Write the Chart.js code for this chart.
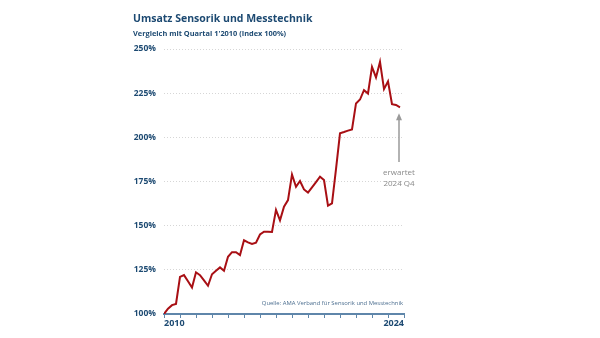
<!DOCTYPE html>
<html>
<head>
<meta charset="utf-8">
<script src="https://cdn.jsdelivr.net/npm/chart.js@4/dist/chart.umd.min.js"></script>
<style>
  html, body { margin: 0; padding: 0; background: #fff; }
  #wrap { width: 600px; height: 338px; }
</style>
</head>
<body>
<div id="wrap"><canvas id="c" width="600" height="338"></canvas></div>
<script>
// quarters from 2010 Q1 to 2024 Q4, index 100 = Q1 2010
const quarters = [];
for (let y = 2010; y <= 2024; y++) for (let q = 1; q <= 4; q++) quarters.push(y + ' Q' + q);

const umsatz = [
  100, 103, 105, 105.7, 121, 122, 118.5, 115, 123.6, 122,
  119, 116, 122.5, 124.5, 126.4, 124.5, 132.4, 135, 135, 133.4,
  141.7, 140.5, 139.6, 140.4, 145, 146.6, 146.6, 146.4, 158.9, 153,
  160.7, 164.5, 179, 172, 175.3, 170.5, 168.7, 171.7, 174.7, 177.7,
  175.8, 161.3, 162.6, 182, 202.3, 203, 203.8, 204.5, 219.2, 221.4,
  226.7, 224.8, 239.9, 233.9, 242.7, 227.3, 231.7, 218.8, 218.3, 217
];

const yTicks = [100, 125, 150, 175, 200, 225, 250];
const yearLabels = ['2010', '2024'];

const title = 'Umsatz Sensorik und Messtechnik';
const subtitle = 'Vergleich mit Quartal 1\'2010 (Index 100%)';
const source = 'Quelle: AMA Verband für Sensorik und Messtechnik';
const note = ['erwartet', '2024 Q4'];

const navy = '#1d4a72';
const axisBlue = '#5f86aa';

const points = umsatz.map((v, i) => ({ x: i, y: v }));

const extras = {
  id: 'extras',
  afterDraw(chart) {
    const ctx = chart.ctx;
    const xs = chart.scales.x, ys = chart.scales.y;
    ctx.save();
    // title block
    ctx.fillStyle = navy;
    ctx.textAlign = 'left';
    ctx.textBaseline = 'alphabetic';
    ctx.font = 'bold 10.5px "Open Sans"';
    ctx.fillText(title, 133, 22);
    ctx.font = 'bold 7.4px "Open Sans"';
    ctx.fillText(subtitle, 133, 35.5);

    // year labels
    ctx.font = 'bold 9px "Open Sans"';
    ctx.textBaseline = 'top';
    ctx.textAlign = 'left';
    ctx.fillText(yearLabels[0], xs.getPixelForValue(0), 319);
    ctx.textAlign = 'right';
    ctx.fillText(yearLabels[1], xs.getPixelForValue(60), 319);

    // source
    ctx.fillStyle = '#4d6f90';
    ctx.font = '5.9px "Open Sans"';
    ctx.textAlign = 'right';
    ctx.textBaseline = 'middle';
    ctx.fillText(source, xs.getPixelForValue(60) - 1, 303);

    // annotation arrow for last value
    const last = umsatz.length - 1;
    const ax = xs.getPixelForValue(last) - 1;
    const tip = ys.getPixelForValue(umsatz[last]) + 6;
    ctx.strokeStyle = '#9a9a9a';
    ctx.fillStyle = '#9a9a9a';
    ctx.lineWidth = 1.5;
    ctx.beginPath();
    ctx.moveTo(ax, tip + 5);
    ctx.lineTo(ax, 162);
    ctx.stroke();
    ctx.beginPath();
    ctx.moveTo(ax, tip);
    ctx.lineTo(ax - 3, tip + 7);
    ctx.lineTo(ax + 3, tip + 7);
    ctx.closePath();
    ctx.fill();

    ctx.fillStyle = '#8a8a8a';
    ctx.font = '8px "Open Sans"';
    ctx.textAlign = 'center';
    ctx.textBaseline = 'middle';
    ctx.fillText(note[0], ax, 173);
    ctx.fillText(note[1], ax, 184);
    ctx.restore();
  }
};

new Chart(document.getElementById('c'), {
  type: 'line',
  data: {
    datasets: [{
      label: 'Umsatz',
      data: points,
      borderColor: '#a80f14',
      borderWidth: 2,
      pointRadius: 0,
      tension: 0,
      fill: false
    }]
  },
  options: {
    responsive: false,
    animation: false,
    layout: { padding: { left: 133, right: 196, top: 49, bottom: 0 } },
    plugins: {
      legend: { display: false },
      tooltip: { enabled: false }
    },
    scales: {
      x: {
        type: 'linear',
        min: 0,
        max: 60,
        afterBuildTicks: (s) => { s.ticks = []; for (let v = 0; v <= 60; v += 4) s.ticks.push({ value: v }); },
        afterFit: (s) => { s.height = 24; },
        ticks: { display: false },
        grid: { drawOnChartArea: false, drawTicks: true, tickLength: 4, color: axisBlue, lineWidth: 1 },
        border: { display: true, color: axisBlue, width: 2 }
      },
      y: {
        min: 100,
        max: 250,
        afterBuildTicks: (s) => { s.ticks = yTicks.map(v => ({ value: v })); },
        afterFit: (s) => { s.width = 31; },
        ticks: {
          padding: 8,
          color: navy,
          font: { family: 'Open Sans', size: 8.5, weight: 'bold' },
          callback: (v) => v + '%'
        },
        grid: { drawTicks: false, color: '#d6d6d6', lineWidth: 1 },
        border: { display: false, dash: [1, 2] }
      }
    }
  },
  plugins: [extras]
});
</script>
</body>
</html>
